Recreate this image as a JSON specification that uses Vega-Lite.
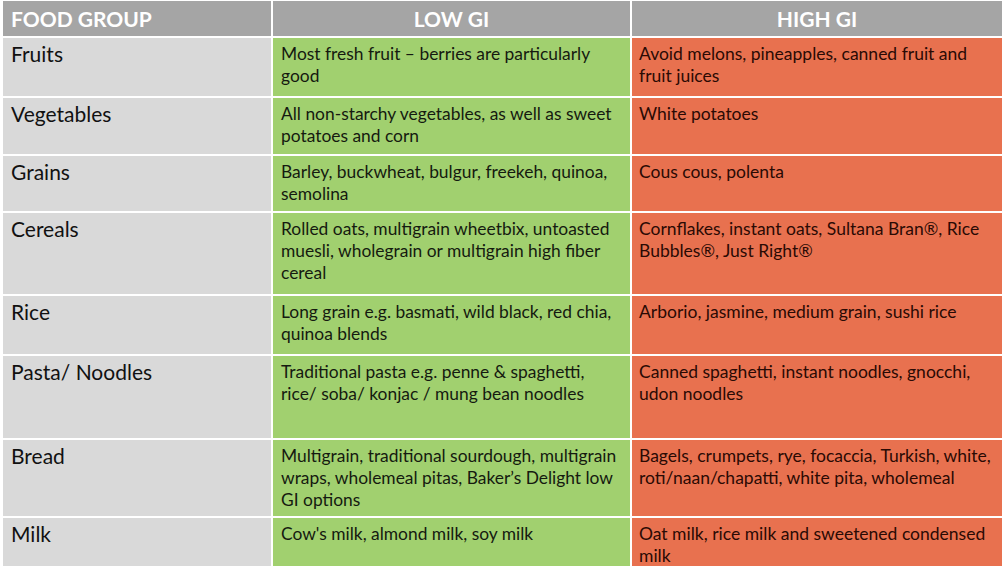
{
  "$schema": "https://vega.github.io/schema/vega-lite/v6.json",
  "width": 1007,
  "height": 569,
  "padding": 0,
  "autosize": {"type": "none"},
  "background": "white",
  "config": {"view": {"stroke": null}, "text": {"font": "Lato"}},
  "datasets": {
    "rows": [
      {"row": "header", "top": 1, "bottom": 36},
      {"row": "Fruits", "top": 38, "bottom": 96},
      {"row": "Vegetables", "top": 98, "bottom": 154},
      {"row": "Grains", "top": 156, "bottom": 211},
      {"row": "Cereals", "top": 213, "bottom": 294},
      {"row": "Rice", "top": 296, "bottom": 354},
      {"row": "Pasta/ Noodles", "top": 356, "bottom": 438},
      {"row": "Bread", "top": 440, "bottom": 516},
      {"row": "Milk", "top": 518, "bottom": 566}
    ],
    "cols": [
      {"col": "group", "left": 3, "right": 271},
      {"col": "low", "left": 273, "right": 630},
      {"col": "high", "left": 632, "right": 1002}
    ]
  },
  "data": {
    "values": [
      {"row": "header", "col": "group", "text": "FOOD GROUP"},
      {"row": "header", "col": "low", "text": "LOW GI"},
      {"row": "header", "col": "high", "text": "HIGH GI"},
      {"row": "Fruits", "col": "group", "text": "Fruits"},
      {"row": "Fruits", "col": "low", "text": "Most fresh fruit – berries are particularly\ngood"},
      {"row": "Fruits", "col": "high", "text": "Avoid melons, pineapples, canned fruit and\nfruit juices"},
      {"row": "Vegetables", "col": "group", "text": "Vegetables"},
      {"row": "Vegetables", "col": "low", "text": "All non-starchy vegetables, as well as sweet\npotatoes and corn"},
      {"row": "Vegetables", "col": "high", "text": "White potatoes"},
      {"row": "Grains", "col": "group", "text": "Grains"},
      {"row": "Grains", "col": "low", "text": "Barley, buckwheat, bulgur, freekeh, quinoa,\nsemolina"},
      {"row": "Grains", "col": "high", "text": "Cous cous, polenta"},
      {"row": "Cereals", "col": "group", "text": "Cereals"},
      {"row": "Cereals", "col": "low", "text": "Rolled oats, multigrain wheetbix, untoasted\nmuesli, wholegrain or multigrain high fiber\ncereal"},
      {"row": "Cereals", "col": "high", "text": "Cornflakes, instant oats, Sultana Bran®, Rice\nBubbles®, Just Right®"},
      {"row": "Rice", "col": "group", "text": "Rice"},
      {"row": "Rice", "col": "low", "text": "Long grain e.g. basmati, wild black, red chia,\nquinoa blends"},
      {"row": "Rice", "col": "high", "text": "Arborio, jasmine, medium grain, sushi rice"},
      {"row": "Pasta/ Noodles", "col": "group", "text": "Pasta/ Noodles"},
      {"row": "Pasta/ Noodles", "col": "low", "text": "Traditional pasta e.g. penne & spaghetti,\nrice/ soba/ konjac / mung bean noodles"},
      {"row": "Pasta/ Noodles", "col": "high", "text": "Canned spaghetti, instant noodles, gnocchi,\nudon noodles"},
      {"row": "Bread", "col": "group", "text": "Bread"},
      {"row": "Bread", "col": "low", "text": "Multigrain, traditional sourdough, multigrain\nwraps, wholemeal pitas, Baker’s Delight low\nGI options"},
      {"row": "Bread", "col": "high", "text": "Bagels, crumpets, rye, focaccia, Turkish, white,\nroti/naan/chapatti, white pita, wholemeal"},
      {"row": "Milk", "col": "group", "text": "Milk"},
      {"row": "Milk", "col": "low", "text": "Cow's milk, almond milk, soy milk"},
      {"row": "Milk", "col": "high", "text": "Oat milk, rice milk and sweetened condensed\nmilk"}
    ]
  },
  "transform": [
    {"lookup": "row", "from": {"data": {"name": "rows"}, "key": "row", "fields": ["top", "bottom"]}},
    {"lookup": "col", "from": {"data": {"name": "cols"}, "key": "col", "fields": ["left", "right"]}},
    {"calculate": "datum.row === 'header' ? 'header' : datum.col", "as": "kind"},
    {"calculate": "(datum.left + datum.right) / 2", "as": "mid"}
  ],
  "layer": [
    {
      "mark": {"type": "rect"},
      "encoding": {
        "x": {"field": "left", "type": "quantitative", "scale": {"domain": [0, 1007], "nice": false, "zero": false}, "axis": null},
        "x2": {"field": "right"},
        "y": {"field": "top", "type": "quantitative", "scale": {"domain": [0, 569], "nice": false, "zero": false, "reverse": true}, "axis": null},
        "y2": {"field": "bottom"},
        "color": {"field": "kind", "type": "nominal", "scale": {"domain": ["header", "group", "low", "high"], "range": ["#A5A5A5", "#D9D9D9", "#A1D06F", "#E8714F"]}, "legend": null}
      }
    },
    {
      "transform": [{"filter": "datum.row === 'header' && datum.col === 'group'"}],
      "mark": {"type": "text", "align": "left", "baseline": "alphabetic", "dx": 8, "dy": 26, "fontSize": 21, "fontWeight": "bold", "color": "white"},
      "encoding": {
        "x": {"field": "left", "type": "quantitative"},
        "y": {"field": "top", "type": "quantitative"},
        "text": {"field": "text"}
      }
    },
    {
      "transform": [{"filter": "datum.row === 'header' && datum.col !== 'group'"}],
      "mark": {"type": "text", "align": "center", "baseline": "alphabetic", "dy": 26, "fontSize": 21, "fontWeight": "bold", "color": "white"},
      "encoding": {
        "x": {"field": "mid", "type": "quantitative"},
        "y": {"field": "top", "type": "quantitative"},
        "text": {"field": "text"}
      }
    },
    {
      "transform": [{"filter": "datum.row !== 'header' && datum.col === 'group'"}],
      "mark": {"type": "text", "align": "left", "baseline": "alphabetic", "dx": 8, "dy": 24, "fontSize": 21, "color": "#111111"},
      "encoding": {
        "x": {"field": "left", "type": "quantitative"},
        "y": {"field": "top", "type": "quantitative"},
        "text": {"field": "text"}
      }
    },
    {
      "transform": [{"filter": "datum.row !== 'header' && datum.col === 'low'"}],
      "mark": {"type": "text", "align": "left", "baseline": "alphabetic", "dx": 8, "dy": 21.5, "fontSize": 17.4, "lineHeight": 22, "lineBreak": "\n", "color": "#151a10"},
      "encoding": {
        "x": {"field": "left", "type": "quantitative"},
        "y": {"field": "top", "type": "quantitative"},
        "text": {"field": "text"}
      }
    },
    {
      "transform": [{"filter": "datum.row !== 'header' && datum.col === 'high'"}],
      "mark": {"type": "text", "align": "left", "baseline": "alphabetic", "dx": 7, "dy": 21.5, "fontSize": 17.5, "lineHeight": 22, "lineBreak": "\n", "color": "#2a0a04"},
      "encoding": {
        "x": {"field": "left", "type": "quantitative"},
        "y": {"field": "top", "type": "quantitative"},
        "text": {"field": "text"}
      }
    }
  ]
}
